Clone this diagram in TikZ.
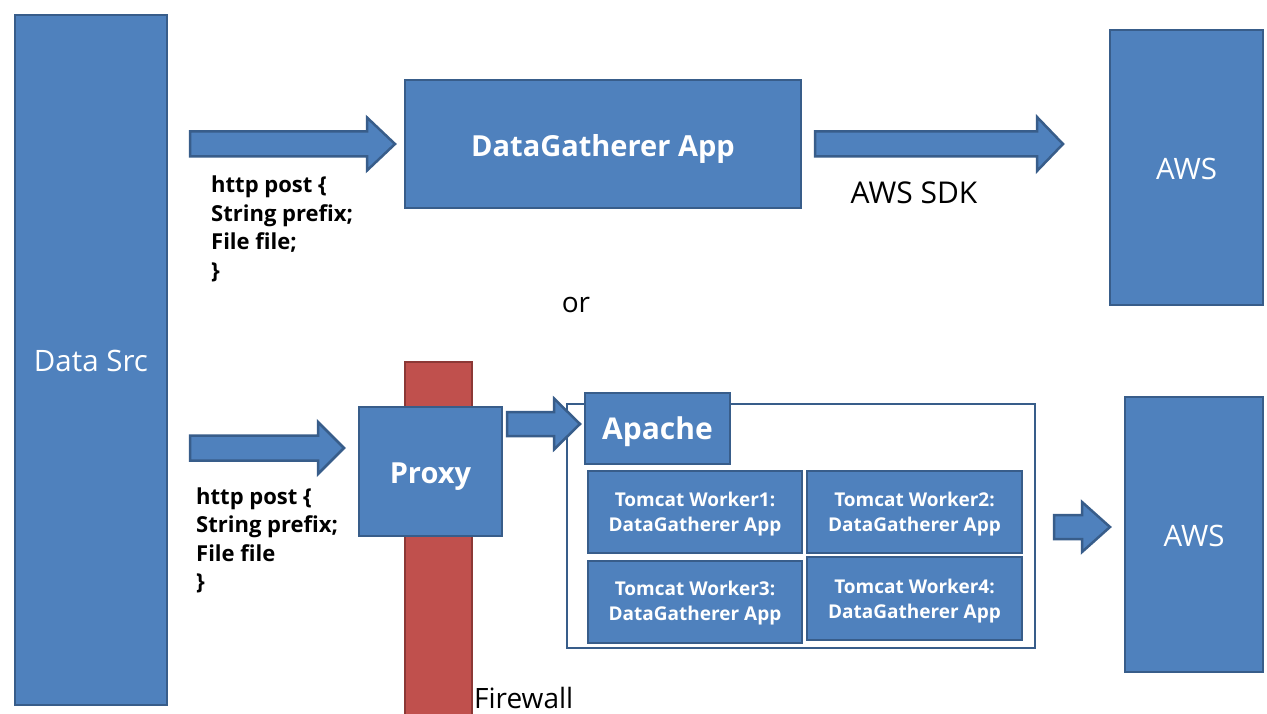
\documentclass[tikz,border=0pt]{standalone}
\usepackage{fontspec}
\setmainfont{Open Sans}
\definecolor{boxfill}{HTML}{4F81BD}
\definecolor{boxline}{HTML}{385D8A}
\definecolor{fwfill}{HTML}{C0504D}
\definecolor{fwline}{HTML}{8C3836}
\tikzset{
  blk/.style={draw=boxline, fill=boxfill, line width=2.5pt, text=white, inner sep=0pt, align=center, text depth=0pt},
  arr/.style={draw=boxline, fill=boxfill, line width=2.5pt, line join=miter},
  bigtxt/.style={font=\fontsize{29.5}{32}\selectfont},
  bigbold/.style={font=\bfseries\fontsize{29}{32}\selectfont},
  worker/.style={blk, minimum width=214pt, minimum height=82pt, text height=39.5pt, font=\bfseries\fontsize{19}{25}\selectfont},
  codetxt/.style={align=left, inner sep=0pt, anchor=north west, font=\bfseries\fontsize{22}{28.4}\selectfont},
  plain/.style={inner sep=0pt, font=\fontsize{28}{32}\selectfont}
}
\newcommand\blockarrow[6]{%
  \draw[arr] (#1,#4-#5) -- (#2,#4-#5) -- (#2,#4-#6) -- (#3,#4) -- (#2,#4+#6) -- (#2,#4+#5) -- (#1,#4+#5) -- cycle;}
\begin{document}
\begin{tikzpicture}[x=1pt,y=-1pt]
\useasboundingbox (0,0) rectangle (1267,714);
\fill[white] (0,0) rectangle (1267,714);
% Data source and AWS
\node[blk, minimum width=152pt, minimum height=690pt, bigtxt, text height=23pt] (src) at (91,360) {Data Src};
\node[blk, minimum width=153pt, minimum height=275pt, bigtxt, text height=24pt] (aws1) at (1186.5,167.5) {AWS};
\node[blk, minimum width=138pt, minimum height=275pt, bigtxt, text height=24pt] (aws2) at (1194,534.5) {AWS};
% top path
\node[blk, minimum width=396pt, minimum height=128pt, bigbold, text height=25pt] (dga) at (603,144) {DataGatherer App};
\blockarrow{190}{367}{395}{144}{12.5}{26.5}
\blockarrow{815}{1037}{1063}{144}{12.5}{27}
\node[plain, font=\fontsize{30}{32}\selectfont] (sdk) at (914,193) {AWS SDK};
\node[codetxt] (code1) at (211,176) {http post \{\\String prefix;\\File file;\\\}};
\node[plain] (or) at (576,305) {or};
% bottom path
\node[draw=fwline, fill=fwfill, line width=2.5pt, minimum width=67pt, minimum height=360pt, inner sep=0pt] (fw) at (438.5,542) {};
\node[blk, minimum width=143pt, minimum height=129pt, bigbold, text height=24pt] (proxy) at (430.5,471.5) {Proxy};
\blockarrow{190}{318}{344}{448}{12.5}{26}
\node[codetxt] (code2) at (196,487.5) {http post \{\\String prefix;\\File file\\\}};
\node[draw=boxline, fill=white, line width=2.5pt, minimum width=468pt, minimum height=244pt, inner sep=0pt] (cont) at (801,526) {};
\blockarrow{507}{554}{580}{424}{12}{25.5}
\node[blk, minimum width=145pt, minimum height=71pt, font=\bfseries\fontsize{30}{34}\selectfont, text height=22.4pt] (apache) at (657.5,428.5) {Apache};
\node[worker] (w1) at (695,512) {Tomcat Worker1:\\DataGatherer App};
\node[worker, minimum width=215pt] (w2) at (914.5,512) {Tomcat Worker2:\\DataGatherer App};
\node[worker, text height=37.5pt] (w3) at (695,602) {Tomcat Worker3:\\DataGatherer App};
\node[worker, minimum width=215pt, minimum height=83pt, text height=40pt] (w4) at (914.5,598.5) {Tomcat Worker4:\\DataGatherer App};
\blockarrow{1054}{1082}{1110}{527}{12}{25}
\node[plain, anchor=west] (fwl) at (474,698) {Firewall};
\end{tikzpicture}
\end{document}
